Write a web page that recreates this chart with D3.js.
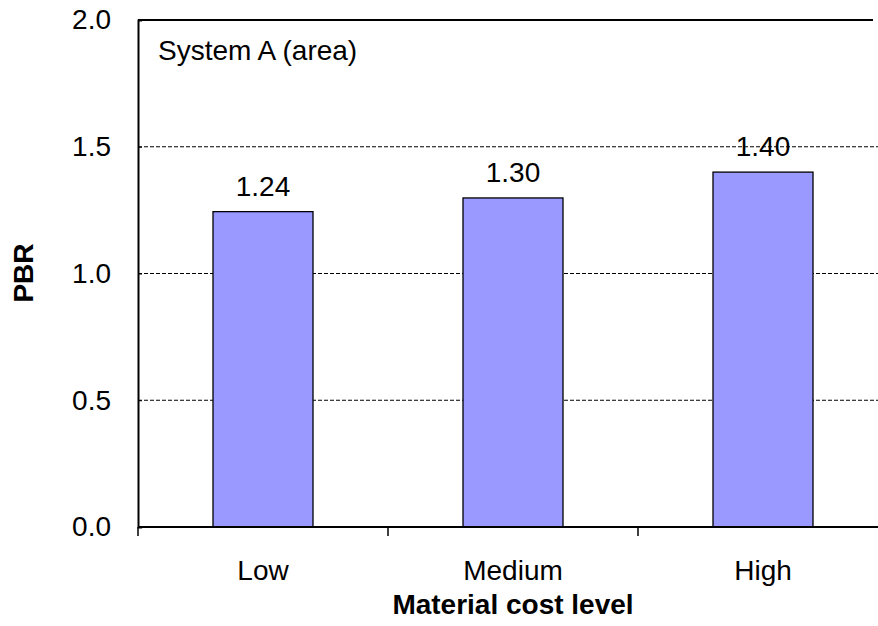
<!DOCTYPE html>
<html>
<head>
<meta charset="utf-8">
<script src="https://cdn.jsdelivr.net/npm/d3@7"></script>
<style>
body{margin:0;background:#fff;}
svg{display:block;font-family:"Liberation Sans",Arial,sans-serif;}
</style>
</head>
<body>
<script>
// chart data
var levels=["Low","Medium","High"]
var pbr=[1.244,1.298,1.40]
var yTicks=[0,0.5,1.0,1.5,2.0]

var screen={width:878,height:626}
var margin={top:20,left:138}
var w=750, h=507
var fs="28px"

var svg=d3.select("body").append("svg")
.attr("width",screen.width)
.attr("height",screen.height)

var g=svg.append("g").attr("transform","translate("+margin.left+","+margin.top+")")

var x=d3.scaleBand().domain(levels).range([0,w]).paddingInner(0.6).paddingOuter(0.3)
var xTick=d3.scaleBand().domain(levels).range([0,w])
var y=d3.scaleLinear().domain([0,2]).range([h,0])

// dashed grid
g.selectAll(".grid").data(yTicks.filter(function(d){return d>0&&d<2})).enter()
.append("line")
.attr("x1",0).attr("x2",w)
.attr("y1",function(d){return y(d)}).attr("y2",function(d){return y(d)})
.attr("stroke","#000").attr("stroke-width",1).attr("stroke-dasharray","4,2")

// top border
g.append("line").attr("x1",0).attr("x2",735).attr("y1",0).attr("y2",0)
.attr("stroke","#000").attr("stroke-width",2)

// bars
g.selectAll(".bar").data(pbr).enter().append("rect")
.attr("x",function(d,i){return x(levels[i])})
.attr("y",function(d){return y(d)})
.attr("width",x.bandwidth())
.attr("height",function(d){return h-y(d)})
.attr("fill","#9999ff")
.attr("stroke","#000").attr("stroke-width",1.3)

// value labels
g.selectAll(".lbl").data(pbr).enter().append("text")
.attr("x",function(d,i){return x(levels[i])+x.bandwidth()/2})
.attr("y",function(d){return y(d)-16})
.attr("text-anchor","middle")
.style("font-size",fs)
.text(function(d){return d3.format(".2f")(d)})

// y axis
var yAxis=g.append("g").call(d3.axisLeft(y).tickValues(yTicks).tickSize(-4).tickPadding(27).tickFormat(d3.format(".1f")))
yAxis.select(".domain").attr("stroke-width",2)
yAxis.selectAll("text").style("font-size",fs).attr("fill","#000")

// x axis
var xAxis=g.append("g").attr("transform","translate(0,"+h+")")
.call(d3.axisBottom(x).tickSize(0).tickPadding(33))
xAxis.select(".domain").remove()
xAxis.selectAll("text").style("font-size",fs).attr("fill","#000")
g.append("line").attr("x1",0).attr("x2",w).attr("y1",h).attr("y2",h)
.attr("stroke","#000").attr("stroke-width",2)
g.selectAll(".xt").data(levels.concat(["end"])).enter().append("line")
.attr("x1",function(d,i){return i*xTick.step()}).attr("x2",function(d,i){return i*xTick.step()})
.attr("y1",h).attr("y2",h+9)
.attr("stroke","#000").attr("stroke-width",1.5)

// titles
svg.append("text").attr("x",margin.left+w/2).attr("y",614)
.attr("text-anchor","middle").style("font-size",fs).style("font-weight","bold")
.text("Material cost level")

svg.append("text").attr("transform","translate(33,273) rotate(-90)")
.attr("text-anchor","middle").style("font-size",fs).style("font-weight","bold")
.text("PBR")

svg.append("text").attr("x",158).attr("y",60).style("font-size",fs)
.text("System A (area)")
</script>
</body>
</html>
